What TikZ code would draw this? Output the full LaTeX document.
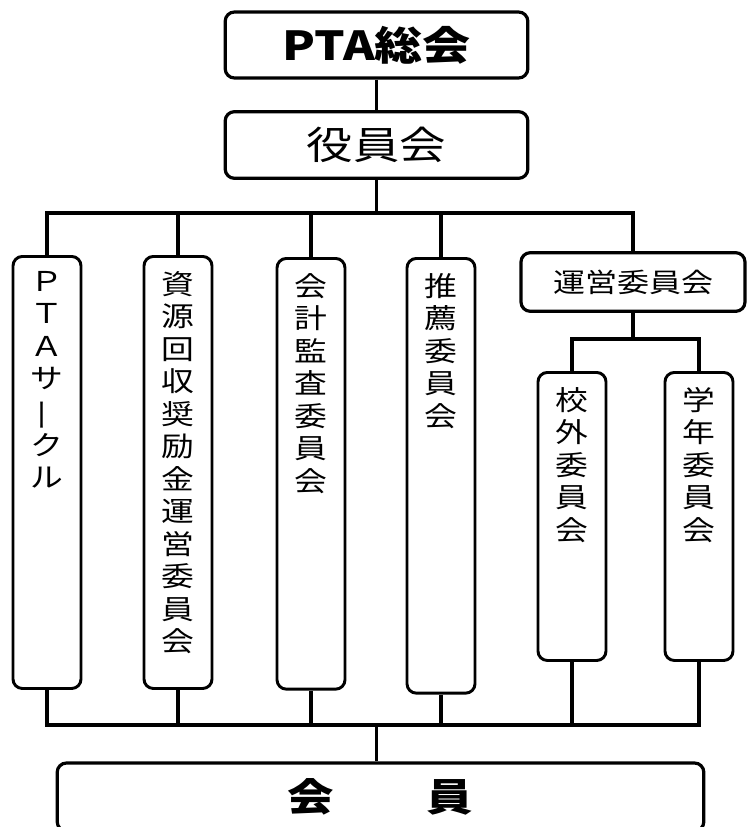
\documentclass[tikz,border=0pt]{standalone}
\usepackage{fontspec}
\newfontfamily\jp[FakeStretch=1.2]{Noto Sans CJK JP}
\usetikzlibrary{positioning}
\tikzset{
	yokobox/.style={
			rectangle, rounded corners=7pt,
			draw=black, line width=2.4pt, inner sep=0pt, text centered},
	tatebox/.style={
			rectangle, rounded corners=7pt,
			draw=black, line width=2.2pt, inner sep=0pt, minimum width=51pt,
			font=\jp\fontsize{20.5}{24.4}\selectfont},
	link/.style={line width=2.8pt},
		}
\newcommand{\tate}[2]{\begin{minipage}[c][#1][t]{40pt}\centering\vspace*{11pt}#2\end{minipage}}

\begin{document}
\begin{tikzpicture} [x=0.75pt, y=-0.75pt]
	\useasboundingbox (0,0) rectangle (747,827);

	\node[yokobox, minimum width=227pt, minimum height=49.5pt,
		font=\jp\bfseries\fontsize{30}{30}\selectfont] (sokai) at (376.5,45) {PTA総会};
	\node[yokobox, minimum width=227pt, minimum height=50pt,
		font=\jp\fontsize{29}{29}\selectfont] (yakuin) at (376.5,145) {役員会};

	\node[tatebox, anchor=north] (circle) at (47,255)
		{\tate{324pt}{Ｐ\\Ｔ\\Ａ\\サ\\\rotatebox[origin=c]{90}{ー}\\ク\\ル}};
	\node[tatebox, anchor=north] (shigen) at (178,255)
		{\tate{324pt}{資\\源\\回\\収\\奨\\励\\金\\運\\営\\委\\員\\会}};
	\node[tatebox, anchor=north] (kansa) at (311,257)
		{\tate{323pt}{会\\計\\監\\査\\委\\員\\会}};
	\node[tatebox, anchor=north] (suisen) at (441,257)
		{\tate{326pt}{推\\薦\\委\\員\\会}};

	\node[yokobox, minimum width=168pt, minimum height=44pt,
		font=\jp\fontsize{20}{20}\selectfont] (unei) at (633,282) {運営委員会};
	\node[tatebox, anchor=north] (kogai) at (572,371)
		{\tate{216pt}{校\\外\\委\\員\\会}};
	\node[tatebox, anchor=north] (gakunen) at (699,371)
		{\tate{216pt}{学\\年\\委\\員\\会}};

	\node[yokobox, minimum width=485pt, minimum height=51pt,
		font=\jp\bfseries\fontsize{29}{29}\selectfont] (kaiin) at (380.5,797)
		{\raisebox{3pt}{会　　員}};

	% bus lines
	\coordinate (topbus) at (376.5,213);
	\coordinate (subbus) at (633,339);
	\coordinate (botbus) at (376.5,725);

	\draw[link] (sokai) -- (yakuin);
	\draw[link] (yakuin) -- (topbus);
	\draw[link] (circle.north) |- (topbus) -| (unei.north);
	\foreach \n in {shigen, kansa, suisen}
		\draw[link] (\n.north) -- (\n.north |- topbus);

	\draw[link] (unei) -- (subbus);
	\draw[link] (kogai.north) |- (subbus) -| (gakunen.north);

	\draw[link] (circle.south) |- (botbus) -| (gakunen.south);
	\foreach \n in {shigen, kansa, suisen, kogai}
		\draw[link] (\n.south) -- (\n.south |- botbus);
	\draw[link] (botbus) -- (botbus |- kaiin.north);
%
\end{tikzpicture}
\end{document}
